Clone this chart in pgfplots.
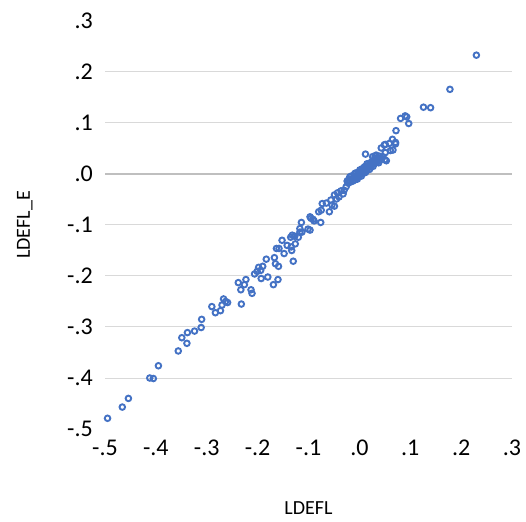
\documentclass[border=0pt]{standalone}
\usepackage{fontspec}
\setmainfont{Carlito}
\usepackage{pgfplots}
\pgfplotsset{compat=1.18}
\definecolor{xlblue}{RGB}{68,114,196}
\definecolor{gridgray}{RGB}{217,217,217}
\definecolor{zerogray}{RGB}{191,191,191}

% LDEFL vs LDEFL_E
\pgfplotstableread{
x y
-0.495 -0.479
-0.466 -0.457
-0.454 -0.440
-0.412 -0.400
-0.405 -0.401
-0.395 -0.376
-0.356 -0.347
-0.349 -0.321
-0.338 -0.311
-0.339 -0.332
-0.324 -0.308
-0.311 -0.301
-0.310 -0.285
-0.290 -0.260
-0.283 -0.272
-0.273 -0.268
-0.270 -0.257
-0.267 -0.245
-0.263 -0.250
-0.259 -0.252
-0.238 -0.213
-0.233 -0.227
-0.226 -0.217
-0.223 -0.207
-0.232 -0.255
-0.213 -0.227
-0.211 -0.234
-0.206 -0.196
-0.201 -0.191
-0.198 -0.183
-0.194 -0.189
-0.193 -0.205
-0.190 -0.181
-0.183 -0.167
-0.180 -0.202
-0.169 -0.217
-0.167 -0.164
-0.165 -0.176
-0.160 -0.207
-0.159 -0.181
-0.163 -0.146
-0.158 -0.146
-0.152 -0.130
-0.148 -0.156
-0.142 -0.140
-0.134 -0.143
-0.133 -0.150
-0.130 -0.171
-0.126 -0.137
-0.135 -0.124
-0.132 -0.120
-0.127 -0.122
-0.120 -0.124
-0.117 -0.114
-0.113 -0.114
-0.117 -0.107
-0.114 -0.095
-0.097 -0.084
-0.095 -0.087
-0.091 -0.089
-0.089 -0.092
-0.097 -0.110
-0.101 -0.108
-0.076 -0.095
-0.080 -0.074
-0.075 -0.071
-0.059 -0.074
-0.073 -0.058
-0.065 -0.057
-0.054 -0.061
-0.049 -0.063
-0.056 -0.051
-0.049 -0.041
-0.043 -0.037
-0.040 -0.045
-0.036 -0.033
-0.032 -0.039
-0.026 -0.025
-0.023 -0.013
-0.030 -0.032
-0.045 -0.049
-0.020 -0.012
-0.018 -0.016
-0.015 -0.010
-0.012 -0.008
-0.010 -0.012
-0.008 -0.005
-0.006 -0.008
-0.005 -0.002
-0.003 -0.005
-0.002 0.000
0.000 -0.003
0.001 0.002
0.002 -0.001
0.003 0.004
0.004 0.001
0.005 0.005
0.006 0.002
0.007 0.007
0.008 0.004
0.009 0.009
0.010 0.006
0.011 0.010
0.012 0.008
0.013 0.012
0.014 0.009
0.015 0.014
0.016 0.011
0.017 0.015
0.018 0.013
0.019 0.017
0.020 0.014
0.021 0.018
0.022 0.016
0.023 0.020
0.024 0.017
0.025 0.021
0.026 0.019
0.027 0.023
0.028 0.020
0.029 0.024
0.030 0.022
0.032 0.026
0.033 0.023
0.035 0.027
0.036 0.025
0.038 0.029
0.040 0.027
0.042 0.031
0.044 0.030
0.046 0.034
-0.016 -0.004
-0.022 -0.018
-0.024 -0.014
0.015 0.020
0.005 0.010
0.030 0.030
-0.019 -0.006
-0.013 -0.014
-0.009 0.001
-0.004 -0.010
0.000 0.004
0.004 -0.004
0.008 0.011
0.012 0.003
0.017 0.020
0.020 0.009
0.024 0.024
0.027 0.015
0.034 0.031
0.038 0.022
0.010 0.014
0.001 0.008
-0.007 0.002
0.012 0.039
0.031 0.035
0.039 0.035
0.050 0.028
0.053 0.026
0.033 0.037
0.026 0.034
0.036 0.031
0.043 0.051
0.049 0.057
0.051 0.058
0.059 0.060
0.071 0.059
0.066 0.047
0.051 0.042
0.061 0.046
0.065 0.068
0.071 0.062
0.072 0.085
0.081 0.109
0.090 0.114
0.093 0.112
0.097 0.099
0.126 0.131
0.140 0.130
0.178 0.166
0.230 0.233
}\ldefl

\begin{document}
\begin{tikzpicture}
\useasboundingbox (-105pt,-92pt) rectangle (421pt,429pt);
\begin{axis}[
  at={(0pt,0pt)}, anchor=south west,
  scale only axis, width=407pt, height=408pt,
  xmin=-0.5, xmax=0.3, ymin=-0.5, ymax=0.3,
  enlargelimits=false, clip=false,
  axis line style={draw=none},
  major tick length=0pt,
  xtick={-0.5,-0.4,-0.3,-0.2,-0.1,0,0.1,0.2,0.3},
  xticklabels={-.5,-.4,-.3,-.2,-.1,.0,.1,.2,.3},
  ytick={-0.4,-0.3,-0.2,-0.1,0,0.1,0.2},
  yticklabels={-.4,-.3,-.2,-.1,.0,.1,.2},
  extra y ticks={-0.5,0.3},
  extra y tick labels={-.5,.3},
  extra y tick style={grid=none},
  ymajorgrids,
  major grid style={gridgray, line width=1pt},
  tick label style={font=\fontsize{24}{26}\selectfont, text=black},
  yticklabel style={inner sep=0pt, anchor=east, xshift=-12pt},
  xticklabel style={inner sep=0pt, anchor=north, yshift=-11pt},
  xlabel={LDEFL},
  ylabel={LDEFL\_E},
  label style={font=\fontsize{20}{22}\selectfont},
  xlabel style={at={(axis description cs:0.5,-0.1936)}, anchor=center},
  ylabel style={at={(axis description cs:-0.197,0.5)}, anchor=center, rotate=0},
]
\draw[zerogray, line width=1.4pt] (axis cs:-0.5,0) -- (axis cs:0.3,0);
\addplot[only marks, mark=o, mark size=2.8pt, xlblue,
  mark options={line width=1.9pt}] table[x=x, y=y] {\ldefl};
\end{axis}
\end{tikzpicture}
\end{document}
